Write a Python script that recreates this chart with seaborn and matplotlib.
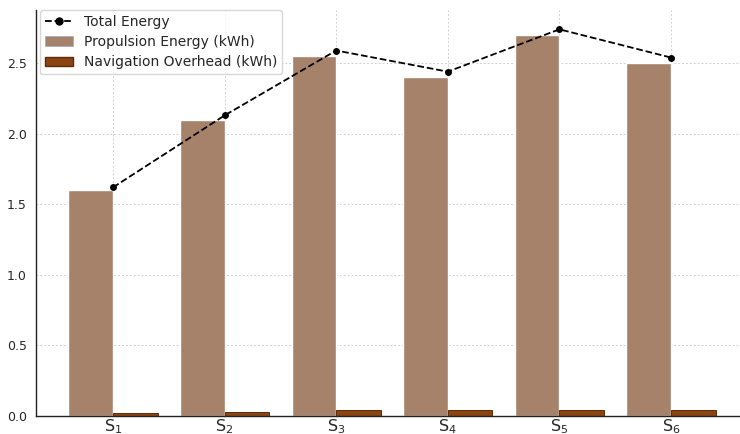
import numpy as np
import pandas as pd
import matplotlib
matplotlib.use("Agg")
from matplotlib import pyplot as plt
from matplotlib.patches import Patch
from matplotlib.lines import Line2D
import seaborn as sns

# stages and energy values (kWh)
stages = ["S1", "S2", "S3", "S4", "S5", "S6"]
stage_labels = ["$\\mathregular{S_1}$", "$\\mathregular{S_2}$", "$\\mathregular{S_3}$",
                "$\\mathregular{S_4}$", "$\\mathregular{S_5}$", "$\\mathregular{S_6}$"]
propulsion = [1.60, 2.10, 2.55, 2.40, 2.70, 2.50]
overhead = [0.02, 0.03, 0.04, 0.04, 0.04, 0.04]
total = [p + o for p, o in zip(propulsion, overhead)]

prop_color = "#a6826a"
over_color = "#8b4513"

df = pd.DataFrame({
    "stage": stages * 2,
    "energy": propulsion + overhead,
    "kind": ["Propulsion Energy (kWh)"] * 6 + ["Navigation Overhead (kWh)"] * 6,
})

sns.set_style("white")
plt.rcParams["font.family"] = ["DejaVu Sans"]

fig = plt.figure(figsize=(7.4, 4.34), dpi=100)
ax = fig.add_axes([36 / 740, 18 / 434, 712 / 740, 406 / 434])

sns.barplot(data=df, x="stage", y="energy", hue="kind",
            palette=[prop_color, over_color], width=0.8, ax=ax,
            legend=False, saturation=1)
for bar in ax.containers[1]:
    bar.set_edgecolor("#5e2a0c")
    bar.set_linewidth(0.7)

# total energy line at the stage positions
sns.lineplot(x=np.arange(len(stages)), y=total, ax=ax, color="black",
             linestyle="--", marker="o", markersize=5, linewidth=1.3,
             markeredgewidth=0)

ax.set_xlim(-0.69, 5.69)
ax.set_ylim(0, 2.877)
ax.set_xticks(range(len(stages)))
ax.set_xticklabels(stage_labels, fontsize=11.5)
ax.set_yticks([0, 0.5, 1.0, 1.5, 2.0, 2.5])
ax.tick_params(axis="y", labelsize=9, length=3)
ax.tick_params(axis="x", length=0, pad=1)
ax.set_xlabel("")
ax.set_ylabel("")
ax.set_axisbelow(True)
ax.grid(True, linestyle=(0, (2, 2)), color="#d0d0d0", linewidth=0.7)
ax.spines["top"].set_visible(False)
ax.spines["right"].set_visible(False)
for s in ["left", "bottom"]:
    ax.spines[s].set_color("#222222")
    ax.spines[s].set_linewidth(1.0)

handles = [
    Line2D([0], [0], color="black", linestyle="--", marker="o", markersize=5,
           linewidth=1.3),
    Patch(facecolor=prop_color, edgecolor="#9aa8c8", linewidth=0.5),
    Patch(facecolor=over_color, edgecolor="#5e2a0c"),
]
leg = ax.legend(handles, ["Total Energy", "Propulsion Energy (kWh)", "Navigation Overhead (kWh)"],
                loc="upper left", bbox_to_anchor=(0.0, 1.01), fontsize=10,
                frameon=True, borderpad=0.35, labelspacing=0.45, handlelength=2.0,
                borderaxespad=0.3)
leg.get_frame().set_edgecolor("#cccccc")

fig.savefig("out.png", dpi=100)
